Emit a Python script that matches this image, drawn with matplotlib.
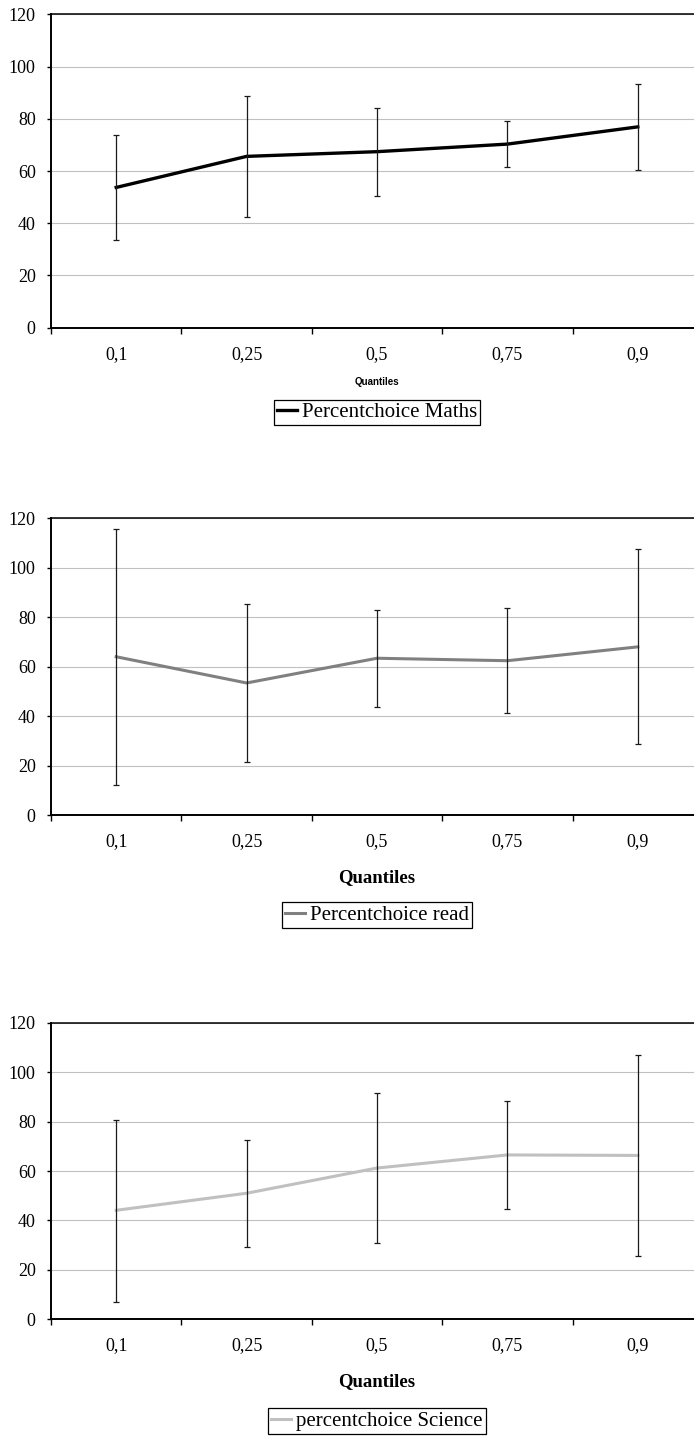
import matplotlib
matplotlib.use("Agg")
import matplotlib.pyplot as plt
from matplotlib.ticker import FixedLocator

# ---- data ----
quantiles = ['0,1', '0,25', '0,5', '0,75', '0,9']

maths = [53.7, 65.6, 67.4, 70.3, 76.9]
maths_lo = [33.6, 42.3, 50.6, 61.5, 60.4]
maths_hi = [73.8, 88.9, 84.3, 79.2, 93.4]

read = [64.0, 53.4, 63.4, 62.4, 68.0]
read_lo = [12.1, 21.3, 43.5, 41.4, 28.6]
read_hi = [115.5, 85.3, 83.1, 83.6, 107.5]

science = [44.1, 51.0, 61.2, 66.5, 66.3]
science_lo = [7.1, 29.3, 31.0, 44.6, 25.8]
science_hi = [80.6, 72.4, 91.4, 88.3, 106.9]

y_ticks = [0, 20, 40, 60, 80, 100, 120]

labels = ['Percentchoice Maths', 'Percentchoice read', 'percentchoice Science']
colors = ['#000000', '#808080', '#c0c0c0']

W, H = 694, 1436
fig = plt.figure(figsize=(W / 100, H / 100), dpi=100)
fig.patch.set_facecolor('white')

SERIF = ['Liberation Serif', 'DejaVu Serif']

# panel geometry in pixels: (top, bottom, ticklabel_y, xlabel_y, legend_y)
panels = [
    (14.3, 327.7, 382.0, 412.5),
    (518.3, 815.0, 877.7, 915.0),
    (1022.7, 1319.3, 1381.7, 1421.0),
]
series = [
    (maths, maths_lo, maths_hi),
    (read, read_lo, read_hi),
    (science, science_lo, science_hi),
]

left_px, right_px = 51.0, 703.0
for i, ((top, bot, xl_y, lg_y), (vals, lo, hi)) in enumerate(zip(panels, series)):
    ax = fig.add_axes([left_px / W, 1 - bot / H, (right_px - left_px) / W, (bot - top) / H])
    x = list(range(len(quantiles)))
    ax.plot(x, vals, color=colors[i], lw=2.4 if i == 0 else 2.2, zorder=3,
            label=labels[i], solid_joinstyle='round')
    yerr = [[v - l for v, l in zip(vals, lo)], [h - v for v, h in zip(vals, hi)]]
    ax.errorbar(x, vals, yerr=yerr, fmt='none', ecolor='#1a1a1a', elinewidth=0.9,
                capsize=2.5, capthick=0.9, zorder=4)
    ax.set_xlim(-0.5, len(quantiles) - 0.5)
    ax.set_ylim(0, 120)
    ax.set_yticks(y_ticks)
    ax.set_yticklabels([str(t) for t in y_ticks])
    ax.set_xticks(x)
    ax.set_xticklabels(quantiles)
    ax.xaxis.set_minor_locator(FixedLocator([k - 0.5 for k in range(len(quantiles) + 1)]))
    ax.tick_params(axis='x', which='major', length=0, pad=13, labelsize=13)
    ax.tick_params(axis='x', which='minor', length=4.5, width=1.0, direction='out')
    ax.tick_params(axis='y', which='major', length=3, width=1.0, direction='out', pad=8, labelsize=13)
    for lab in ax.get_xticklabels() + ax.get_yticklabels():
        lab.set_fontfamily(SERIF)
    ax.yaxis.grid(True, color='#c0c0c0', lw=0.8)
    ax.set_axisbelow(True)
    for s in ['left', 'bottom']:
        ax.spines[s].set_linewidth(1.4)
    ax.spines['top'].set_linewidth(1.1)
    ax.spines['right'].set_visible(False)

    if i == 0:
        fig.text(377 / W, 1 - xl_y / H, 'Quantiles', ha='center', va='center',
                 fontsize=7, fontweight='bold', family=['Liberation Sans', 'DejaVu Sans'])
    else:
        fig.text(377 / W, 1 - xl_y / H, 'Quantiles', ha='center', va='center',
                 fontsize=13.5, fontweight='bold', family=SERIF)

    leg = ax.legend(loc='center', bbox_to_anchor=(377 / W, 1 - lg_y / H),
                    bbox_transform=fig.transFigure, frameon=True, fancybox=False,
                    edgecolor='black', framealpha=1, borderpad=0.15,
                    handlelength=0.95, handletextpad=0.25,
                    prop={'family': SERIF, 'size': 15})
    leg.get_frame().set_linewidth(0.9)

fig.savefig('out.png', dpi=100, facecolor='white')
